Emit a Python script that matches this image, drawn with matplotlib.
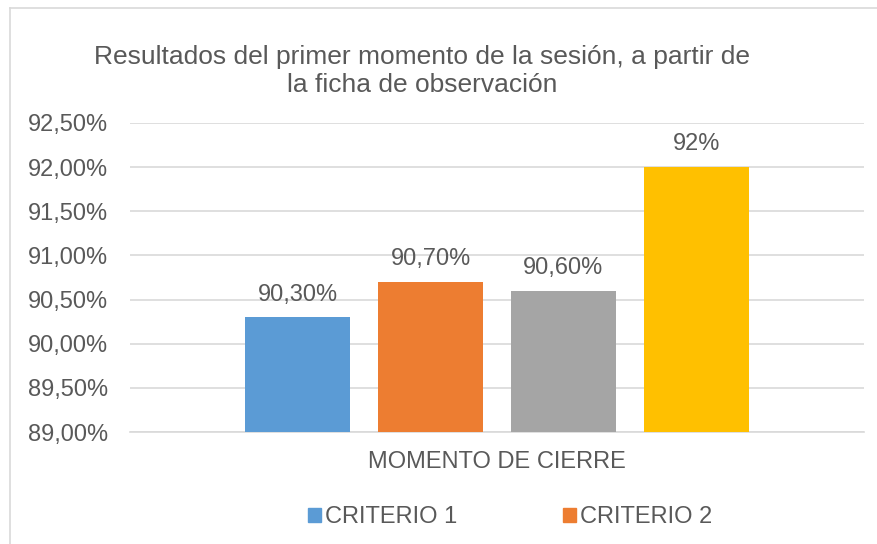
import numpy as np
import matplotlib.pyplot as plt
from matplotlib.patches import Patch
from matplotlib.lines import Line2D

plt.rcParams['font.family'] = ['Liberation Sans', 'DejaVu Sans']

series = ["CRITERIO 1", "CRITERIO 2", "CRITERIO 3", "CRITERIO 4"]
values = [90.3, 90.7, 90.6, 92.0]
value_labels = ["90,30%", "90,70%", "90,60%", "92%"]
category = "MOMENTO DE CIERRE"
yticks = [89.0, 89.5, 90.0, 90.5, 91.0, 91.5, 92.0, 92.5]
ytick_labels = ["89,00%", "89,50%", "90,00%", "90,50%", "91,00%", "91,50%", "92,00%", "92,50%"]
colors = ["#5b9bd5", "#ed7d31", "#a5a5a5", "#ffc000"]

TEXT = "#595959"
GRID = "#d9d9d9"

fig = plt.figure(figsize=(8.78, 5.44), dpi=100)
ax = fig.add_axes([130 / 878, 1 - 432 / 544, 734 / 878, (432 - 123) / 544])

x = np.arange(len(values))
ax.bar(x, [v - yticks[0] for v in values], bottom=yticks[0], width=0.79, color=colors, zorder=3)
for xi, v, lab in zip(x, values, value_labels):
    ax.annotate(lab, (xi, v), xytext=(0, 12), textcoords="offset points",
                ha="center", va="baseline", fontsize=17, color=TEXT)

ax.set_xlim(-1.26, 4.26)
ax.set_ylim(yticks[0], yticks[-1])
ax.set_yticks(yticks)
ax.set_yticklabels(ytick_labels, fontsize=17, color=TEXT)
ax.set_xticks([1.5])
ax.set_xticklabels([category], fontsize=17, color=TEXT)
ax.tick_params(axis="both", length=0)
ax.tick_params(axis="y", pad=16)
ax.tick_params(axis="x", pad=14)
ax.yaxis.grid(True, color=GRID, linewidth=1.2, zorder=0)
for s in ["top", "right", "left"]:
    ax.spines[s].set_visible(False)
ax.spines["bottom"].set_color(GRID)
ax.spines["bottom"].set_linewidth(1.2)

fig.text(422 / 878, 1 - 71 / 544, "Resultados del primer momento de la sesión, a partir de\nla ficha de observación",
         ha="center", va="center", fontsize=19, color=TEXT, linespacing=1.22)

# chart frame (cropped at right and bottom)
fig.add_artist(Line2D([10 / 878, 1], [1 - 8 / 544, 1 - 8 / 544], color=GRID, linewidth=1.2))
fig.add_artist(Line2D([10 / 878, 10 / 878], [0, 1 - 8 / 544], color=GRID, linewidth=1.2))

handles = [Patch(color=c) for c in colors[:2]]
fig.legend(handles, series[:2], loc="center", bbox_to_anchor=(510 / 878, 1 - 517 / 544), ncol=2,
           frameon=False, fontsize=17, labelcolor=TEXT, handlelength=0.55, handleheight=0.55,
           handletextpad=0.17, columnspacing=4.5, borderpad=0, borderaxespad=0)

fig.savefig("out.png", dpi=100, facecolor="white")
